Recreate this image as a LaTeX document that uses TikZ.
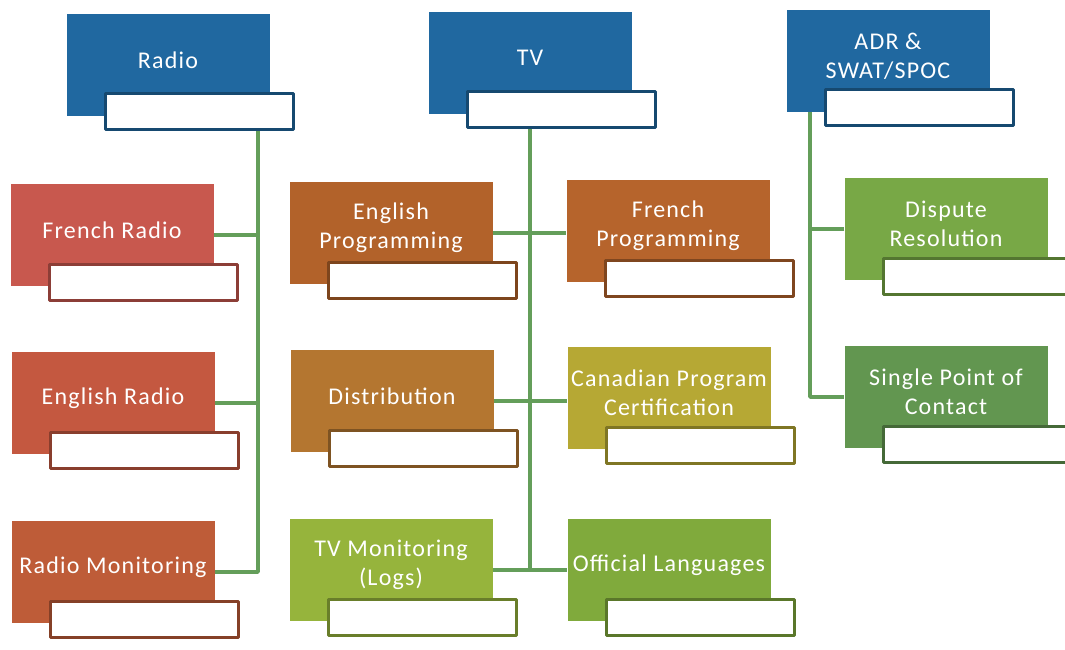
\documentclass[tikz,border=0pt]{standalone}
\usepackage{fontspec}
\setmainfont{Carlito}[LetterSpace=5]
\definecolor{cblue}{RGB}{32,104,160}
\definecolor{cfrad}{RGB}{200,88,78}
\definecolor{cerad}{RGB}{196,88,64}
\definecolor{crmon}{RGB}{190,92,56}
\definecolor{ceprog}{RGB}{178,98,42}
\definecolor{cfprog}{RGB}{182,100,44}
\definecolor{cdist}{RGB}{180,118,48}
\definecolor{ccpc}{RGB}{182,168,52}
\definecolor{ctvmon}{RGB}{150,180,60}
\definecolor{colang}{RGB}{128,170,60}
\definecolor{cdres}{RGB}{120,168,70}
\definecolor{cspoc}{RGB}{98,150,80}
\definecolor{clink}{RGB}{100,158,90}
\begin{document}
\begin{tikzpicture}[x=1pt, y=-1pt, line join=round,
	unitbox/.style={rectangle, inner sep=0pt, minimum width=203pt, minimum height=102pt},
	subbox/.style={rectangle, fill=white, line width=3pt, inner sep=0pt, minimum width=188pt, minimum height=36pt},
	unittext/.style={text=white, align=center, inner sep=0pt, font=\fontsize{24}{29}\selectfont},
	link/.style={draw=clink, line width=3.5pt}]
	\def\orgunit#1#2#3#4{% name, centre, colour, text
		\node[unitbox, fill=#3] (#1) at (#2) {};
		\node[subbox, draw=#3!70!black] (#1-sub) at ([shift={(31,47)}]#1.center) {};
		\node[unittext] (#1-txt) at ([shift={(0,-5)}]#1.center) {#4};}
	\useasboundingbox[fill=white] (0,0) rectangle (1065,650);
	% heads
	\orgunit{radio}{168,65}{cblue}{Radio}
	\orgunit{tv}{530,63}{cblue}{TV}
	\orgunit{adr}{888,61}{cblue}{ADR \&\\SWAT/SPOC}
	% radio
	\orgunit{frad}{112,235}{cfrad}{French Radio}
	\orgunit{erad}{113,403}{cerad}{English Radio}
	\orgunit{rmon}{113,572}{crmon}{Radio Monitoring}
	% tv
	\orgunit{eprog}{391,233}{ceprog}{English\\Programming}
	\orgunit{fprog}{668,231}{cfprog}{French\\Programming}
	\orgunit{dist}{392,401}{cdist}{Distribution}
	\orgunit{cpc}{669,398}{ccpc}{Canadian Program\\Certification}
	\orgunit{tvmon}{391,570}{ctvmon}{TV Monitoring\\(Logs)}
	\orgunit{olang}{669,570}{colang}{Official Languages}
	% adr
	\orgunit{dres}{946,229}{cdres}{Dispute\\Resolution}
	\orgunit{spoc}{946,397}{cspoc}{Single Point of\\Contact}
	% trunks
	\coordinate (rtrunk) at (258,0);
	\coordinate (atrunk) at (810,0);
	\draw[link] (rtrunk |- radio-sub.south) -- (rtrunk |- rmon.east) -- (rmon.east);
	\draw[link] (frad.east) -- (frad.east -| rtrunk);
	\draw[link] (erad.east) -- (erad.east -| rtrunk);
	\draw[link] (tv.center |- tv-sub.south) -- (tv.center |- tvmon.east);
	\draw[link] (eprog.east) -- (eprog.east -| fprog.west);
	\draw[link] (dist.east) -- (dist.east -| cpc.west);
	\draw[link] (tvmon.east) -- (tvmon.east -| olang.west);
	\draw[link] (atrunk |- adr.south) -- (atrunk |- spoc.west) -- (spoc.west);
	\draw[link] (dres.west) -- (dres.west -| atrunk);
\end{tikzpicture}
\end{document}
